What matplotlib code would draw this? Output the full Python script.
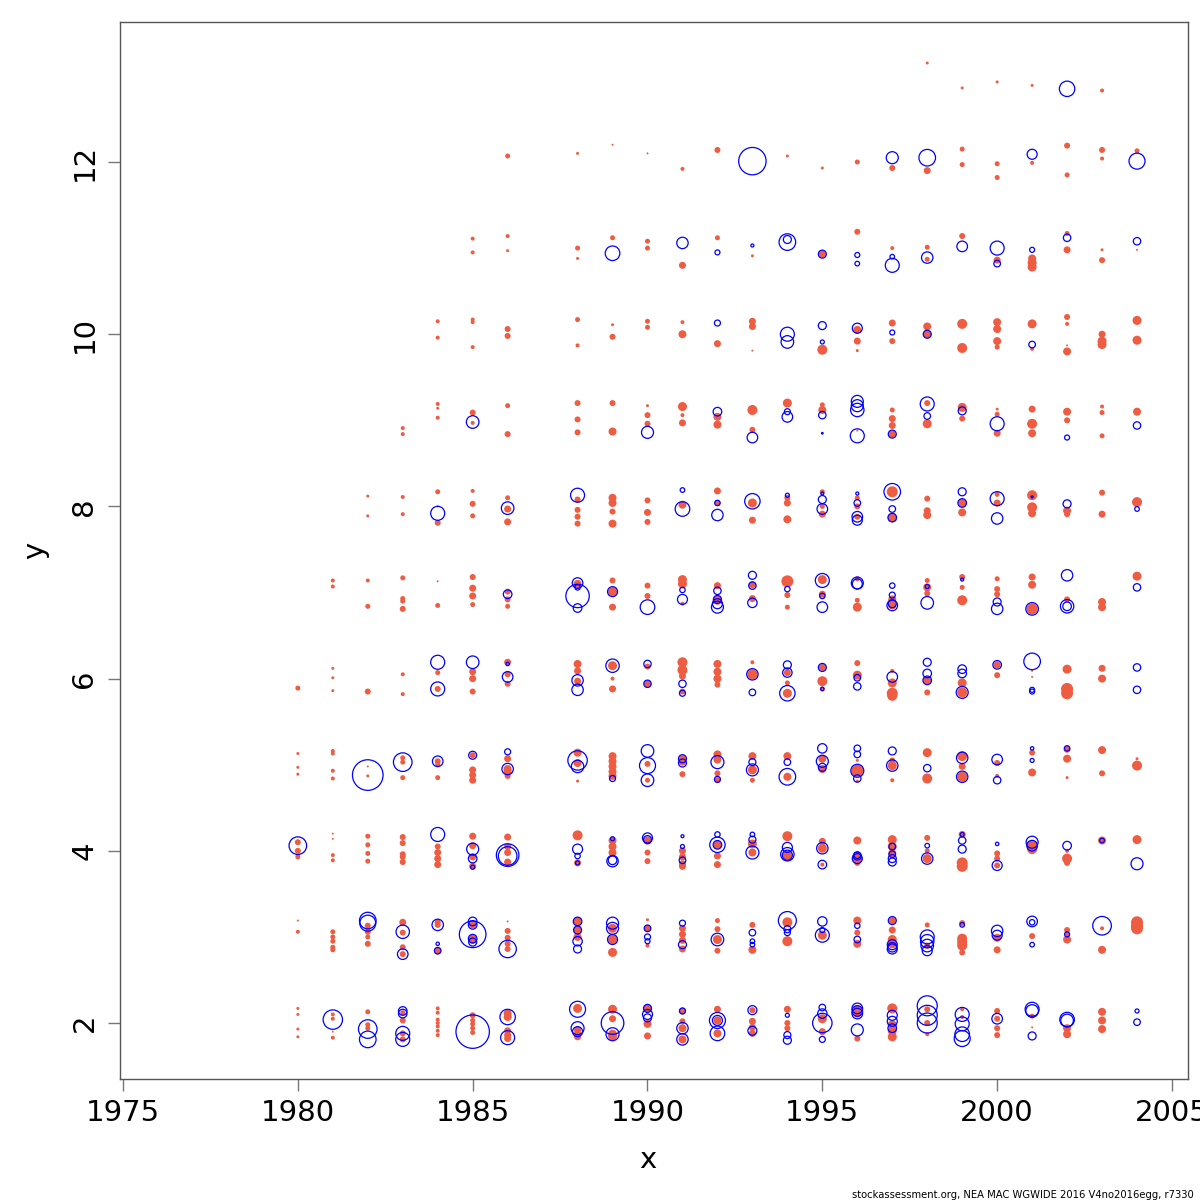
import matplotlib
matplotlib.use("Agg")
import matplotlib.pyplot as plt

# residual bubbles: (year, y, radius in px); pos = open blue, neg = filled red
pos_2 = [(1981, 2.04, 9.7), (1982, 1.93, 9.3), (1982, 1.81, 8.3), (1983, 2.14, 4.3), (1983, 2.11, 4.3),
         (1983, 1.88, 7), (1983, 1.81, 7), (1985, 1.90, 16.7), (1986, 2.07, 7.7), (1986, 1.83, 7),
         (1988, 2.16, 8), (1988, 1.94, 6.5), (1988, 1.90, 5), (1989, 2.00, 11.3), (1989, 1.87, 6.5),
         (1990, 2.17, 4), (1990, 2.10, 5), (1990, 2.06, 4), (1991, 2.14, 3), (1991, 1.94, 5.7),
         (1991, 1.81, 5.7), (1992, 2.03, 8), (1992, 2.03, 5), (1992, 1.88, 7.3), (1993, 2.15, 4.5),
         (1993, 1.91, 4.5), (1994, 2.09, 2), (1994, 1.86, 3.5), (1994, 1.80, 4), (1995, 2.18, 3.3),
         (1995, 2.11, 4.7), (1995, 2.00, 9.7), (1995, 1.81, 3), (1996, 2.17, 5.3), (1996, 2.14, 5.3),
         (1996, 2.11, 5.3), (1996, 1.92, 6), (1997, 2.09, 5), (1997, 2.02, 5), (1997, 1.94, 4.3),
         (1998, 2.20, 10), (1998, 2.09, 10), (1998, 2.00, 10), (1999, 2.10, 7), (1999, 1.99, 7),
         (1999, 1.87, 7.3), (1999, 1.82, 8), (2000, 2.05, 5.3), (2001, 2.16, 7), (2001, 2.14, 6.3),
         (2001, 1.85, 4), (2002, 2.04, 7.3), (2002, 2.03, 6.3), (2004, 2.14, 2), (2004, 2.01, 3.3)]
neg_2 = [(1980, 2.17, 1.5), (1980, 2.10, 1.5), (1980, 1.93, 1.5), (1980, 1.84, 1.5), (1981, 2.10, 2),
         (1981, 2.05, 2), (1981, 1.90, 1), (1981, 1.83, 2), (1982, 2.13, 2.5), (1982, 1.98, 2.5),
         (1982, 1.94, 2.5), (1983, 2.12, 2.5), (1983, 2.03, 3), (1983, 1.88, 3), (1983, 1.81, 3),
         (1984, 2.17, 2), (1984, 2.12, 2), (1984, 2.04, 2), (1984, 2.00, 2), (1984, 1.96, 2),
         (1984, 1.91, 2), (1984, 1.86, 2), (1985, 2.09, 3), (1985, 2.03, 2.5), (1985, 1.99, 2.5),
         (1985, 1.94, 2.5), (1985, 1.89, 2.5), (1986, 2.11, 4), (1986, 2.07, 4), (1986, 1.91, 3.5),
         (1986, 1.86, 3.5), (1986, 1.82, 3.5), (1988, 2.17, 4.5), (1988, 1.92, 3.5), (1988, 1.88, 3.5),
         (1988, 1.84, 3.5), (1989, 2.16, 4.5), (1989, 2.05, 3.5), (1989, 1.87, 4.5), (1989, 1.85, 4.5),
         (1990, 2.17, 4), (1990, 1.99, 4), (1990, 1.85, 3.5), (1991, 2.14, 3.5), (1991, 2.02, 3),
         (1991, 1.94, 4), (1991, 1.81, 4), (1992, 2.16, 3.5), (1992, 2.03, 4), (1992, 1.88, 4),
         (1993, 2.15, 3), (1993, 2.02, 3.5), (1993, 1.95, 3.5), (1993, 1.88, 3.5), (1994, 2.16, 3.5),
         (1994, 2.00, 3), (1994, 1.94, 3), (1995, 2.05, 4.5), (1995, 1.90, 3.5), (1996, 2.16, 4),
         (1996, 2.11, 4), (1996, 1.82, 3), (1997, 2.17, 5), (1997, 1.98, 4.5), (1997, 1.91, 4.5),
         (1997, 1.84, 4.5), (1998, 2.16, 3), (1998, 2.00, 3), (1998, 1.87, 2), (1999, 2.16, 2),
         (1999, 2.07, 2), (2000, 2.14, 3), (2000, 2.05, 3), (2000, 1.94, 3), (2000, 1.86, 3),
         (2001, 2.08, 2.5), (2001, 1.95, 1), (2002, 1.94, 4), (2002, 1.87, 4), (2003, 2.13, 4),
         (2003, 2.03, 4), (2003, 1.93, 4)]

pos_3 = [(1982, 3.19, 8.3), (1982, 3.16, 8), (1983, 3.06, 6.7), (1983, 2.80, 5.3), (1984, 3.14, 5.7),
         (1984, 2.92, 1.7), (1984, 2.84, 3.3), (1985, 3.03, 13.3), (1985, 3.18, 4.3), (1985, 3.14, 4.3),
         (1985, 2.98, 4.3), (1985, 2.94, 4), (1986, 2.86, 8.7), (1988, 3.18, 4.3), (1988, 3.08, 4),
         (1988, 2.95, 4.7), (1988, 2.86, 4), (1989, 3.16, 6), (1989, 3.10, 6), (1989, 2.97, 5),
         (1990, 3.10, 3.3), (1990, 3.00, 3), (1990, 2.95, 2.5), (1991, 3.16, 3), (1991, 2.91, 4),
         (1992, 2.97, 6.3), (1993, 3.05, 3.3), (1993, 2.95, 2.3), (1993, 2.91, 2.3), (1994, 3.19, 9),
         (1994, 3.09, 3.5), (1994, 3.05, 3), (1995, 3.18, 4.7), (1995, 3.08, 2.5), (1995, 3.02, 7),
         (1996, 3.13, 2.7), (1996, 2.97, 3.3), (1997, 3.19, 4), (1997, 2.91, 5), (1997, 2.88, 4.7),
         (1997, 2.86, 5), (1998, 3.00, 7), (1998, 2.95, 6.7), (1998, 2.90, 6.3), (1998, 2.84, 5),
         (1999, 3.14, 2.3), (2000, 3.07, 5.7), (2000, 3.02, 5), (2001, 3.18, 5.3), (2001, 3.17, 2.7),
         (2001, 2.91, 2.3), (2002, 3.03, 2.5), (2003, 3.13, 9.3)]
neg_3 = [(1980, 3.19, 1), (1980, 3.06, 2), (1981, 3.06, 2.5), (1981, 3.00, 2.5), (1981, 2.95, 2.5),
         (1981, 2.88, 2.5), (1981, 2.85, 2.5), (1982, 3.13, 3), (1982, 3.06, 3), (1982, 3.00, 2.5),
         (1982, 2.92, 3), (1983, 3.17, 3.5), (1983, 3.05, 3), (1983, 2.88, 3), (1983, 2.80, 3),
         (1984, 3.17, 3), (1984, 3.14, 3), (1984, 2.84, 3.5), (1985, 3.14, 3.5), (1985, 2.98, 4),
         (1985, 2.96, 3.5), (1986, 3.18, 1), (1986, 3.07, 3), (1986, 2.99, 3), (1986, 2.92, 3),
         (1986, 2.86, 3), (1988, 3.18, 4), (1988, 3.08, 4), (1988, 3.00, 4), (1989, 3.10, 4.5),
         (1989, 2.97, 4.5), (1989, 2.82, 4.5), (1990, 3.20, 1.5), (1990, 3.10, 3.5), (1990, 2.90, 2),
         (1991, 3.10, 3.5), (1991, 3.03, 3.5), (1991, 2.96, 3.5), (1991, 2.86, 3.5), (1992, 3.19, 2.5),
         (1992, 3.09, 3), (1992, 2.97, 4.5), (1992, 2.84, 3), (1993, 3.14, 3), (1993, 2.85, 4),
         (1994, 3.17, 5), (1994, 2.95, 5), (1995, 3.02, 4.5), (1996, 3.19, 4), (1996, 3.05, 3),
         (1996, 2.92, 4), (1997, 3.19, 3.5), (1997, 3.08, 3.5), (1997, 2.97, 4.5), (1997, 2.92, 4.5),
         (1998, 3.14, 2.5), (1998, 2.90, 3), (1999, 3.16, 3), (1999, 2.98, 5), (1999, 2.94, 5),
         (1999, 2.90, 5), (1999, 2.82, 3), (2000, 2.99, 4), (2000, 2.85, 3.5), (2001, 3.01, 3),
         (2002, 3.08, 3), (2002, 3.03, 2), (2002, 2.97, 4), (2003, 3.10, 2), (2003, 2.85, 4),
         (2004, 3.17, 6), (2004, 3.13, 6), (2004, 3.10, 6)]

pos_4 = [(1980, 4.06, 8.8), (1984, 4.19, 7), (1985, 4.02, 6), (1985, 3.91, 4.3), (1985, 3.81, 2),
         (1986, 3.95, 11.3), (1986, 3.94, 9.3), (1988, 4.02, 5), (1988, 3.94, 2.7), (1988, 3.86, 2),
         (1989, 4.14, 2), (1989, 3.88, 5.7), (1989, 3.89, 4.3), (1990, 4.15, 5), (1990, 4.13, 4),
         (1991, 4.17, 1.5), (1991, 4.05, 2), (1991, 3.89, 3.3), (1992, 4.19, 2.7), (1992, 4.07, 7.7),
         (1992, 4.07, 4.3), (1993, 4.19, 2.3), (1993, 4.13, 3.5), (1993, 3.98, 6.5), (1994, 4.04, 5),
         (1994, 3.96, 6.7), (1994, 3.95, 5), (1995, 4.03, 5.7), (1995, 3.84, 4.3), (1996, 3.95, 3.3),
         (1996, 3.94, 4), (1996, 3.91, 5), (1997, 4.05, 3.3), (1997, 3.96, 3.3), (1997, 3.91, 4),
         (1997, 3.87, 4), (1998, 4.06, 2.3), (1998, 3.91, 5.7), (1999, 4.19, 2), (1999, 4.12, 3.7),
         (1999, 4.02, 4), (2000, 4.08, 1.7), (2000, 3.83, 5), (2001, 4.10, 6), (2001, 4.06, 5.3),
         (2002, 4.06, 4.3), (2003, 4.12, 2.3), (2004, 3.85, 6)]
neg_4 = [(1980, 4.10, 3), (1980, 4.00, 3), (1980, 3.93, 2.5), (1981, 4.20, 1), (1981, 4.14, 1),
         (1981, 3.95, 2), (1981, 3.89, 2), (1982, 4.17, 2.5), (1982, 4.07, 2.5), (1982, 3.97, 2.5),
         (1982, 3.88, 2.5), (1983, 4.16, 3), (1983, 4.09, 3), (1983, 3.96, 3), (1983, 3.93, 3),
         (1983, 3.87, 3), (1984, 4.05, 3), (1984, 3.98, 3.5), (1984, 3.91, 3.5), (1984, 3.84, 3.5),
         (1985, 4.17, 3.5), (1985, 4.06, 3.5), (1985, 3.93, 3.5), (1985, 3.82, 3.5), (1986, 4.16, 3.5),
         (1986, 4.05, 3.5), (1986, 3.98, 3.5), (1986, 3.87, 3.5), (1988, 4.18, 5), (1988, 3.86, 3.5),
         (1989, 4.12, 4), (1989, 4.05, 4), (1989, 3.98, 4), (1990, 4.12, 4), (1990, 3.98, 3),
         (1990, 3.88, 3), (1991, 4.00, 3.5), (1991, 3.93, 3.5), (1991, 3.85, 3.5), (1991, 3.82, 3.5),
         (1992, 4.07, 4), (1992, 3.94, 3.5), (1992, 3.84, 3.5), (1993, 4.08, 4.5), (1993, 3.98, 4),
         (1994, 4.17, 5), (1994, 3.95, 4.5), (1995, 4.11, 3.5), (1995, 4.03, 4.5), (1995, 3.84, 2),
         (1996, 4.12, 4), (1996, 3.91, 5), (1996, 3.86, 3), (1997, 4.13, 4.5), (1997, 4.05, 4.5),
         (1997, 3.97, 4), (1998, 4.15, 3), (1998, 4.00, 2.5), (1998, 3.91, 4.5), (1999, 4.19, 3.5),
         (1999, 3.86, 5.5), (1999, 3.82, 5.5), (2000, 3.97, 3), (2000, 3.91, 3), (2000, 3.83, 3),
         (2001, 4.06, 5.5), (2001, 4.02, 5), (2002, 4.00, 2), (2002, 3.91, 5), (2002, 3.86, 3),
         (2003, 4.12, 4), (2004, 4.13, 4.5)]

pos_5 = [(1982, 4.88, 15.3), (1983, 5.03, 9.3), (1984, 5.04, 5.3), (1985, 5.11, 4), (1986, 5.15, 3),
         (1986, 4.95, 5.7), (1988, 5.05, 9.7), (1988, 4.98, 6.2), (1989, 4.84, 3), (1990, 5.16, 6.3),
         (1990, 4.99, 8), (1990, 4.82, 6.3), (1991, 5.07, 4), (1991, 5.02, 4), (1992, 5.03, 6.5),
         (1992, 4.83, 3), (1993, 5.03, 3.5), (1993, 4.94, 6), (1994, 5.03, 3.3), (1994, 4.86, 8.3),
         (1995, 5.19, 4.7), (1995, 5.04, 6), (1995, 4.97, 4), (1996, 5.19, 3.3), (1996, 5.12, 3.3),
         (1996, 4.93, 6.5), (1996, 4.84, 3.7), (1997, 5.16, 4), (1997, 4.99, 5.7), (1998, 4.96, 3.7),
         (1999, 5.08, 5.7), (1999, 4.86, 5.7), (2000, 5.06, 5.3), (2000, 4.82, 3.7), (2001, 5.19, 1.7),
         (2001, 5.05, 2), (2002, 5.19, 2.7)]
neg_5 = [(1980, 5.13, 1.5), (1980, 4.97, 1.5), (1980, 4.89, 1.5), (1981, 5.16, 2), (1981, 5.13, 2),
         (1981, 4.93, 2), (1981, 4.84, 2), (1982, 4.98, 1), (1982, 4.87, 1.5), (1983, 5.08, 2.5),
         (1983, 5.03, 2.5), (1983, 4.85, 2.5), (1984, 5.04, 3), (1984, 5.00, 2.5), (1984, 4.85, 2.5),
         (1985, 5.11, 3), (1985, 4.94, 3.5), (1985, 4.88, 3.5), (1985, 4.82, 3.5), (1986, 5.07, 3.5),
         (1986, 4.95, 4), (1986, 4.92, 4), (1986, 4.87, 3), (1988, 5.14, 4), (1988, 5.02, 4),
         (1988, 4.81, 1.5), (1989, 5.10, 4), (1989, 5.04, 4), (1989, 4.98, 4), (1989, 4.92, 4),
         (1989, 4.87, 4), (1990, 5.01, 3), (1990, 4.82, 2.5), (1991, 5.07, 3.5), (1991, 5.03, 3.5),
         (1991, 4.89, 3), (1992, 5.12, 4), (1992, 5.06, 4), (1992, 4.90, 3), (1992, 4.82, 3),
         (1993, 5.10, 4), (1993, 4.94, 4.5), (1993, 4.82, 2.5), (1994, 5.10, 4), (1994, 4.86, 4),
         (1995, 5.07, 4), (1995, 4.95, 4), (1996, 5.05, 1.5), (1996, 4.93, 6), (1996, 4.81, 1.5),
         (1997, 5.05, 3), (1997, 4.99, 4.5), (1997, 4.82, 2), (1998, 5.14, 4.5), (1998, 4.84, 5),
         (1999, 5.10, 5), (1999, 4.98, 3.5), (1999, 4.86, 5), (2000, 5.02, 3), (2000, 4.87, 2),
         (2001, 5.14, 3), (2001, 4.91, 4), (2002, 5.18, 3.5), (2002, 5.07, 4), (2002, 4.85, 1.5),
         (2003, 5.17, 4), (2003, 4.90, 3), (2004, 5.07, 1.5), (2004, 4.99, 5)]

pos_6 = [(1984, 6.19, 7), (1984, 5.88, 7), (1985, 6.19, 6.3), (1986, 6.17, 1.7), (1986, 6.02, 5.3),
         (1988, 5.98, 5.7), (1988, 5.87, 5.7), (1989, 6.15, 6.7), (1990, 6.17, 3.7), (1990, 5.94, 3.7),
         (1991, 5.94, 3.7), (1991, 5.83, 3), (1993, 6.05, 5.7), (1993, 5.84, 3.3), (1994, 6.16, 4),
         (1994, 6.07, 4.7), (1994, 5.83, 7.7), (1995, 6.13, 4), (1995, 5.88, 1.7), (1996, 6.01, 3.3),
         (1996, 5.91, 3.7), (1997, 6.02, 5.3), (1998, 6.19, 4), (1998, 6.06, 4.3), (1998, 5.98, 4.3),
         (1999, 6.11, 4.3), (1999, 6.06, 4.3), (1999, 5.84, 6), (2000, 6.16, 4.3), (2001, 6.20, 8.3),
         (2001, 5.87, 2.5), (2001, 5.85, 2.5), (2004, 6.13, 3.7), (2004, 5.87, 3.7)]
neg_6 = [(1980, 5.89, 2.5), (1981, 6.12, 1.5), (1981, 6.01, 1.5), (1981, 5.86, 1.5), (1982, 5.85, 3),
         (1983, 6.05, 2), (1983, 5.82, 2), (1984, 6.07, 2.5), (1984, 5.88, 3), (1985, 6.08, 3.5),
         (1985, 6.00, 3.5), (1985, 5.85, 3), (1986, 6.19, 3.5), (1986, 6.05, 3), (1986, 5.94, 3),
         (1988, 6.17, 4), (1988, 6.09, 3.5), (1988, 5.97, 3.5), (1989, 6.15, 4.5), (1989, 6.00, 2),
         (1989, 5.88, 3.5), (1990, 6.14, 3), (1990, 5.94, 3.5), (1991, 6.19, 5), (1991, 6.10, 5),
         (1991, 6.03, 3.5), (1991, 5.85, 3), (1992, 6.17, 4), (1992, 6.08, 4), (1992, 6.00, 4),
         (1992, 5.93, 3), (1993, 6.19, 2), (1993, 6.05, 5), (1994, 6.07, 3.5), (1994, 5.95, 2.5),
         (1994, 5.83, 4.5), (1995, 6.13, 3.5), (1995, 5.97, 5), (1995, 5.88, 2.5), (1996, 6.18, 3),
         (1996, 6.04, 4.5), (1997, 6.09, 2), (1997, 5.95, 4.5), (1997, 5.83, 5.5), (1997, 5.80, 5),
         (1998, 5.98, 4), (1998, 5.84, 3), (1999, 5.95, 4.5), (1999, 5.84, 5), (2000, 6.16, 3.5),
         (2000, 6.04, 3), (2001, 6.09, 1), (2001, 6.02, 1), (2002, 6.11, 4.5), (2002, 5.88, 6),
         (2002, 5.83, 6), (2003, 6.12, 3.5), (2003, 6.00, 4)]

pos_7 = [(1986, 6.98, 4.3), (1988, 7.11, 5.3), (1988, 7.06, 2.7), (1988, 6.96, 11.7), (1988, 6.82, 4.3),
         (1989, 7.01, 5), (1990, 6.83, 7.3), (1991, 7.03, 2.7), (1991, 6.92, 5), (1992, 7.02, 3.7),
         (1992, 6.92, 4), (1992, 6.87, 5), (1992, 6.83, 6), (1993, 7.20, 4), (1993, 7.08, 3.7),
         (1993, 6.88, 4.7), (1994, 7.04, 2.7), (1995, 7.14, 7), (1995, 6.96, 2.7), (1995, 6.83, 5.3),
         (1996, 7.11, 6), (1996, 7.10, 5), (1997, 7.08, 2.7), (1997, 6.97, 3), (1997, 6.87, 4),
         (1997, 6.85, 5.3), (1998, 7.07, 2), (1998, 6.88, 6.3), (1999, 7.15, 1.5), (2000, 6.89, 4),
         (2000, 6.81, 5.7), (2001, 6.81, 6.3), (2002, 7.20, 5.7), (2002, 6.84, 6.7), (2002, 6.84, 4.3),
         (2004, 7.06, 3.7)]
neg_7 = [(1981, 7.14, 2), (1981, 7.07, 2), (1982, 7.14, 2), (1982, 6.84, 2.5), (1983, 7.17, 2.5),
         (1983, 6.93, 2.5), (1983, 6.90, 2.5), (1983, 6.81, 3), (1984, 7.13, 1), (1984, 6.85, 2.5),
         (1985, 7.18, 3), (1985, 7.05, 3.5), (1985, 6.96, 3.5), (1985, 6.86, 2.5), (1986, 7.01, 3),
         (1986, 6.92, 3), (1986, 6.84, 2.5), (1988, 7.10, 4), (1989, 7.14, 3), (1989, 7.01, 4.5),
         (1989, 6.83, 3.5), (1990, 7.08, 3), (1990, 6.96, 3), (1991, 7.15, 4.5), (1991, 7.10, 4.5),
         (1991, 6.87, 2), (1992, 7.08, 3.5), (1992, 6.91, 4.5), (1993, 7.09, 3.5), (1993, 6.93, 3.5),
         (1994, 7.13, 6), (1994, 6.97, 3), (1994, 6.83, 2.5), (1995, 7.15, 4.5), (1995, 6.98, 3.5),
         (1996, 7.16, 2.5), (1996, 6.91, 2.5), (1996, 6.83, 4.5), (1997, 6.92, 4), (1997, 6.85, 4),
         (1998, 7.14, 2.5), (1998, 7.06, 4), (1998, 6.99, 3), (1999, 7.18, 3), (1999, 7.06, 2.5),
         (1999, 6.91, 5), (2000, 7.16, 2.5), (2000, 7.04, 3), (2000, 6.98, 3), (2001, 7.18, 3.5),
         (2001, 7.09, 4), (2001, 6.81, 5.5), (2002, 6.92, 3), (2003, 6.89, 4), (2003, 6.83, 4),
         (2004, 7.19, 4.5)]

pos_8 = [(1984, 7.92, 7), (1986, 7.98, 6.3), (1988, 8.13, 7), (1991, 8.19, 2.3), (1991, 7.97, 7.3),
         (1992, 8.04, 2.7), (1992, 7.90, 5.7), (1993, 8.06, 7.7), (1994, 8.13, 2), (1995, 8.15, 1.5),
         (1995, 8.08, 4), (1995, 7.97, 5.3), (1996, 8.15, 1.5), (1996, 8.04, 3.3), (1996, 7.88, 5.3),
         (1996, 7.84, 5), (1997, 8.17, 8.3), (1997, 7.97, 3.3), (1997, 7.87, 4.3), (1999, 8.17, 4),
         (1999, 8.04, 4.3), (2000, 8.09, 7), (2000, 7.86, 5.7), (2001, 8.11, 1), (2002, 8.03, 4),
         (2004, 7.97, 2.3)]
neg_8 = [(1982, 8.12, 1.5), (1982, 7.89, 1.5), (1983, 8.11, 2), (1983, 7.91, 2), (1984, 8.17, 2.5),
         (1984, 8.00, 1), (1984, 7.81, 3), (1985, 8.18, 2), (1985, 8.03, 3), (1985, 7.89, 2.5),
         (1986, 8.10, 2.5), (1986, 7.97, 3.5), (1986, 7.82, 3.5), (1988, 8.08, 3), (1988, 7.96, 3),
         (1988, 7.88, 3), (1988, 7.80, 3), (1989, 8.10, 4), (1989, 8.04, 4), (1989, 7.94, 3),
         (1989, 7.80, 4), (1990, 8.07, 3), (1990, 7.93, 3.5), (1990, 7.82, 3), (1991, 8.02, 4),
         (1992, 8.18, 3.5), (1992, 8.04, 3), (1993, 8.04, 4.5), (1993, 7.84, 3.5), (1994, 8.10, 3),
         (1994, 8.04, 3.5), (1994, 7.85, 4), (1995, 8.17, 2.5), (1995, 8.00, 2.5), (1995, 7.91, 3.5),
         (1996, 8.10, 2.5), (1996, 8.00, 3), (1996, 7.88, 3), (1997, 8.17, 5.5), (1997, 7.87, 4.5),
         (1998, 8.09, 3), (1998, 7.95, 3.5), (1998, 7.90, 4), (1999, 8.04, 4), (1999, 7.93, 4),
         (2000, 8.14, 2.5), (2000, 8.04, 3.5), (2001, 8.13, 5), (2001, 7.99, 5), (2001, 7.92, 4),
         (2002, 7.95, 4), (2002, 7.91, 3), (2003, 8.16, 3), (2003, 7.91, 3.5), (2004, 8.05, 5)]

pos_9 = [(1985, 8.98, 6.3), (1990, 8.86, 6), (1992, 9.10, 4.3), (1993, 8.80, 5.3), (1994, 9.10, 3),
         (1994, 9.04, 5.3), (1995, 9.06, 3.7), (1995, 8.85, 0.8), (1996, 9.22, 6), (1996, 9.17, 6),
         (1996, 9.12, 6.7), (1996, 8.82, 7), (1997, 8.84, 4), (1998, 9.19, 7), (1998, 9.05, 3.3),
         (1999, 9.11, 4), (2000, 8.96, 7), (2002, 8.80, 2.5), (2004, 8.94, 3.7)]
neg_9 = [(1983, 8.91, 2), (1983, 8.84, 2), (1984, 9.19, 2), (1984, 9.14, 1.5), (1984, 9.03, 2),
         (1985, 9.09, 3), (1985, 8.97, 2), (1986, 9.17, 2.5), (1986, 8.84, 3), (1988, 9.20, 3),
         (1988, 9.01, 3), (1988, 8.86, 3), (1989, 9.20, 3), (1989, 8.87, 4), (1990, 9.17, 1.5),
         (1990, 9.06, 3), (1990, 8.96, 3), (1991, 9.16, 4.5), (1991, 9.06, 2), (1991, 8.97, 3.5),
         (1992, 9.04, 4), (1992, 8.95, 4), (1993, 9.12, 5), (1993, 8.89, 3), (1994, 9.20, 4.5),
         (1995, 9.18, 2.5), (1995, 9.12, 4), (1996, 8.88, 1), (1997, 9.12, 2.5), (1997, 9.02, 3.5),
         (1997, 8.94, 3.5), (1997, 8.84, 3.5), (1998, 9.20, 3), (1998, 8.96, 4.5), (1999, 9.15, 4.5),
         (1999, 9.02, 3), (2000, 9.13, 1.5), (2000, 9.07, 2.5), (2000, 8.85, 3.5), (2001, 9.13, 3.5),
         (2001, 8.96, 5), (2001, 8.85, 4), (2002, 9.10, 4), (2002, 9.00, 3), (2003, 9.16, 2),
         (2003, 9.09, 2.5), (2003, 8.82, 2.5), (2004, 9.10, 4)]

pos_10 = [(1992, 10.13, 3), (1994, 10.00, 7), (1994, 9.91, 6.3), (1995, 10.10, 4), (1995, 9.91, 2),
          (1996, 10.07, 5), (1997, 10.02, 2.5), (1998, 10.00, 4), (2001, 9.88, 3.3)]
neg_10 = [(1984, 10.15, 2), (1984, 9.96, 2), (1985, 10.17, 2), (1985, 10.14, 2), (1985, 9.85, 2),
          (1986, 10.06, 3), (1986, 9.98, 3), (1988, 10.17, 2.5), (1988, 9.87, 2), (1989, 10.11, 1.5),
          (1989, 9.97, 3), (1990, 10.15, 2.5), (1990, 10.08, 2.5), (1991, 10.14, 2), (1991, 10.00, 4),
          (1992, 9.89, 3.5), (1993, 10.15, 3.5), (1993, 10.09, 3.5), (1993, 9.81, 1), (1995, 9.82, 5),
          (1996, 10.05, 4), (1996, 9.92, 3.5), (1996, 9.81, 1.5), (1997, 10.13, 3.5), (1997, 9.92, 3),
          (1998, 10.09, 4), (1998, 10.00, 4), (1999, 10.12, 5), (1999, 9.84, 5), (2000, 10.14, 4),
          (2000, 10.06, 4), (2000, 9.92, 4), (2000, 9.85, 2.5), (2001, 10.12, 4.5), (2001, 9.83, 2),
          (2002, 10.20, 3), (2002, 10.12, 2), (2002, 9.87, 1), (2002, 9.80, 4), (2003, 10.00, 3.5),
          (2003, 9.92, 4.5), (2003, 9.88, 4.5), (2004, 10.16, 4.5), (2004, 9.93, 4.5)]

pos_11 = [(1989, 10.94, 7.3), (1991, 11.06, 5.7), (1992, 10.95, 2.5), (1993, 11.03, 1.5),
          (1994, 11.07, 8.3), (1994, 11.10, 4), (1995, 10.93, 4), (1996, 10.92, 2.5), (1996, 10.82, 2.3),
          (1997, 10.90, 2.3), (1997, 10.80, 7), (1998, 10.89, 5.7), (1999, 11.02, 5.3), (2000, 11.00, 7),
          (2000, 10.82, 3.3), (2001, 10.98, 2.5), (2002, 11.12, 3.7), (2004, 11.08, 3.7)]
neg_11 = [(1985, 11.11, 2), (1985, 10.95, 2), (1986, 11.14, 2), (1986, 10.97, 1.5), (1988, 11.00, 2.5),
          (1988, 10.88, 1.5), (1989, 11.12, 2.5), (1990, 11.08, 2.5), (1990, 11.00, 2.5), (1991, 10.80, 3.5),
          (1992, 11.12, 2.5), (1993, 10.91, 1.5), (1995, 10.93, 3.5), (1996, 11.19, 3), (1997, 11.00, 2),
          (1998, 11.01, 2.5), (1998, 10.87, 2.5), (1999, 11.14, 3), (2000, 10.86, 3.5), (2001, 10.88, 4),
          (2001, 10.83, 4.5), (2001, 10.78, 4.5), (2002, 11.17, 2.5), (2002, 10.98, 3.5), (2003, 10.98, 1.5),
          (2003, 10.86, 3), (2004, 10.98, 1)]

pos_12 = [(1993, 12.01, 13.7), (1997, 12.05, 6), (1998, 12.05, 8.3), (2001, 12.09, 5), (2004, 12.01, 8),
          (2002, 12.85, 7.7)]
neg_12 = [(1986, 12.07, 2.5), (1988, 12.10, 1.5), (1989, 12.20, 1), (1990, 12.10, 1), (1991, 11.92, 2),
          (1992, 12.14, 3), (1994, 12.07, 1.5), (1995, 11.93, 1.5), (1996, 12.00, 2.5), (1997, 11.93, 3),
          (1998, 11.90, 3.5), (1999, 12.15, 2.5), (1999, 11.97, 2.5), (2000, 11.98, 2.5), (2000, 11.82, 2.5),
          (2001, 11.99, 2), (2002, 12.19, 3), (2002, 11.85, 2.5), (2003, 12.14, 3), (2003, 12.04, 2),
          (2004, 12.13, 2.5), (1998, 13.15, 1.5), (1999, 12.86, 1.5), (2000, 12.93, 1.5), (2001, 12.89, 1.5),
          (2003, 12.83, 2)]

pos_all = pos_2 + pos_3 + pos_4 + pos_5 + pos_6 + pos_7 + pos_8 + pos_9 + pos_10 + pos_11 + pos_12
neg_all = neg_2 + neg_3 + neg_4 + neg_5 + neg_6 + neg_7 + neg_8 + neg_9 + neg_10 + neg_11 + neg_12

x_ticks = [1975, 1980, 1985, 1990, 1995, 2000, 2005]
y_ticks = [2, 4, 6, 8, 10, 12]
footer = "stockassessment.org, NEA MAC WGWIDE 2016 V4no2016egg, r7330"

DPI = 100


def area(r_px):
    # marker area in pt^2 from a radius in pixels
    return (2 * r_px * 72 / DPI) ** 2


fig = plt.figure(figsize=(12, 12), dpi=DPI)
ax = fig.add_axes([120 / 1200, 1 - 1079 / 1200, (1188 - 120) / 1200, (1079 - 22) / 1200])

ax.scatter([p[0] for p in neg_all], [p[1] for p in neg_all],
           s=[area(p[2]) for p in neg_all], c="#EE5C42", linewidths=0, zorder=2)
ax.scatter([p[0] for p in pos_all], [p[1] for p in pos_all],
           s=[area(p[2]) for p in pos_all], facecolors="none", edgecolors="#0000FF",
           linewidths=0.9, zorder=3)

ax.set_xlim(1974.914, 2005.458)
ax.set_ylim(1.350, 13.626)
ax.set_xticks(x_ticks)
ax.set_yticks(y_ticks)
ax.tick_params(axis="both", direction="out", length=8.5, width=1, color="#777777",
               labelsize=21, pad=6)
ax.tick_params(axis="y", labelrotation=90, pad=7)
for lab in ax.get_yticklabels():
    lab.set_va("center")
for sp in ax.spines.values():
    sp.set_color("#555555")
    sp.set_linewidth(1)

fig.text(648 / 1200, 1 - 1160 / 1200, "x", fontsize=21, ha="center", va="center")
fig.text(35 / 1200, 1 - 550 / 1200, "y", fontsize=21, ha="center", va="center", rotation=90)
fig.text(1194 / 1200, 2.3 / 1200, footer, fontsize=7.2, ha="right", va="baseline")

fig.savefig("out.png", dpi=DPI)
